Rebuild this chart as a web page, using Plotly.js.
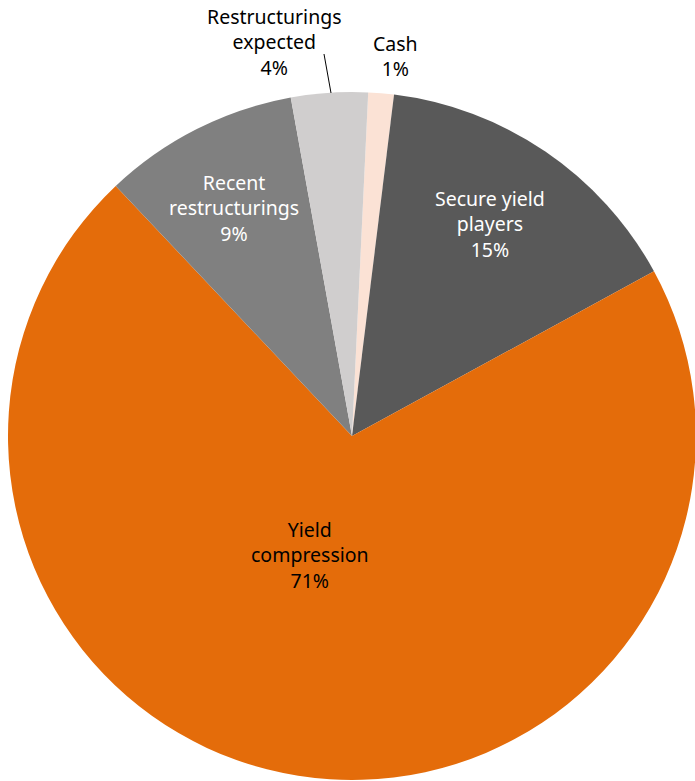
<!DOCTYPE html>
<html>
<head>
<meta charset="utf-8">
<script src="https://cdn.plot.ly/plotly-3.0.1.min.js"></script>
<style>
html,body{margin:0;padding:0;overflow:hidden;background:#fff;}
#chart{width:697px;height:781px;}
</style>
</head>
<body>
<div id="chart"></div>
<script>
// Data
const labels = ["Cash", "Secure yield players", "Yield compression", "Recent restructurings", "Restructurings expected"];
const labelLines = ["Cash", "Secure yield<br>players", "Yield<br>compression", "Recent<br>restructurings", "Restructurings<br>expected"];
const values = [1.2, 15.1, 70.9, 9.2, 3.6];
const colors = ["#FBE2D5", "#595959", "#E46C0A", "#808080", "#D0CECE"];
const textColors = ["#000000", "#FFFFFF", "#000000", "#FFFFFF", "#000000"];

const W = 697, H = 781;
const total = values.reduce((a, b) => a + b, 0);

// label block centers in pixels (layout)
const labelPos = [[395, 56], [490, 224], [310, 555], [234, 208], [274, 42]];

const annotations = labels.map((l, i) => ({
  xref: 'paper', yref: 'paper',
  x: labelPos[i][0] / W, y: 1 - labelPos[i][1] / H,
  xanchor: 'center', yanchor: 'middle',
  text: labelLines[i] + '<br>' + Math.round(values[i] / total * 100) + '%',
  showarrow: false, align: 'center',
  font: {family: '"Noto Sans", sans-serif', size: 19.5, color: textColors[i]}
}));

const trace = {
  type: 'pie',
  labels: labels,
  values: values,
  sort: false,
  direction: 'clockwise',
  rotation: 2.7,
  marker: {colors: colors, line: {width: 0}},
  textinfo: 'none',
  hoverinfo: 'none',
  showlegend: false,
  domain: {x: [8 / W, 696 / W], y: [1 / H, 689 / H]}
};

const layout = {
  width: W, height: H,
  margin: {l: 0, r: 0, t: 0, b: 0},
  paper_bgcolor: '#ffffff',
  showlegend: false,
  annotations: annotations,
  shapes: [{
    type: 'line', xref: 'paper', yref: 'paper',
    x0: 324 / W, y0: 1 - 54 / H, x1: 331 / W, y1: 1 - 93 / H,
    line: {color: '#000000', width: 1}
  }]
};

Plotly.newPlot('chart', [trace], layout, {displayModeBar: false, staticPlot: true});
</script>
</body>
</html>
